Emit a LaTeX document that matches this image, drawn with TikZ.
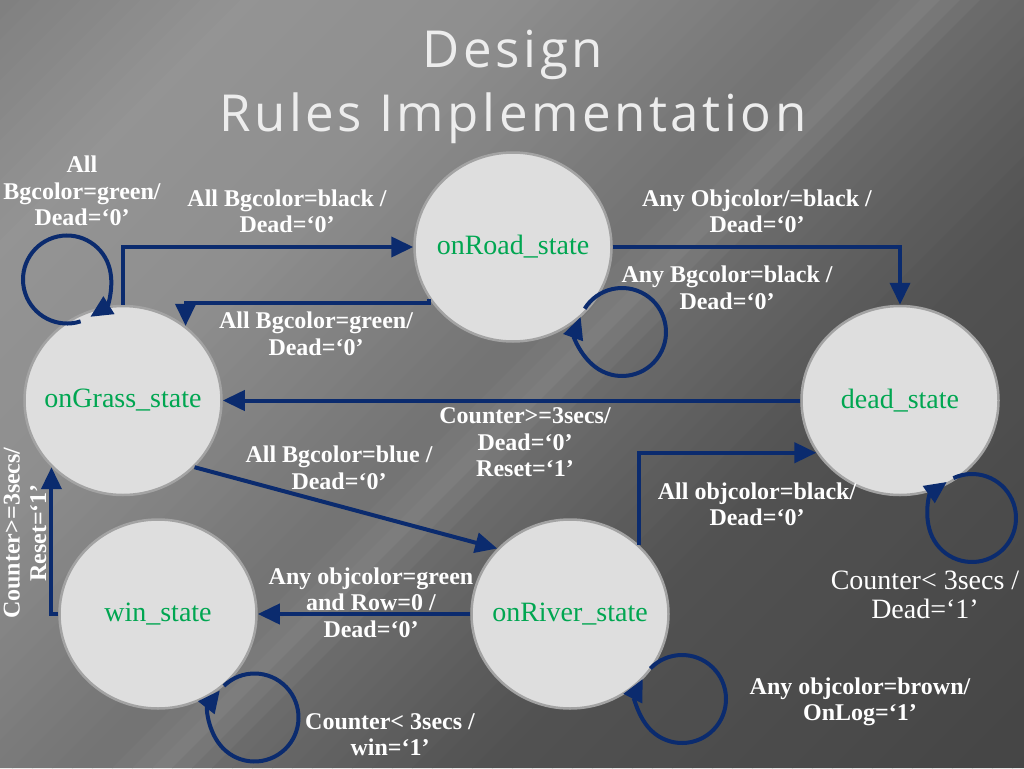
\documentclass[tikz,border=0pt]{standalone}
\usepackage{fontspec}
\setmainfont{Liberation Serif}
\newfontfamily\titlefont[LetterSpace=7]{Open Sans}
\usetikzlibrary{arrows.meta,shapes.geometric,calc}
\definecolor{arrowblue}{HTML}{0B2B6E}
\definecolor{stategreen}{RGB}{0,166,81}
\definecolor{circfill}{HTML}{DEDEDE}
\definecolor{circline}{HTML}{A3A3A3}
\definecolor{titlegray}{HTML}{EDEDED}
\begin{document}
\begin{tikzpicture}[x=1pt,y=-1pt,
  st/.style={ellipse, minimum width=197pt, minimum height=189pt, inner sep=0pt,
    fill=circfill, draw=circline, line width=2.5pt, text=stategreen,
    font=\fontsize{28}{32}\selectfont},
  arr/.style={draw=arrowblue, line width=4pt, -{Triangle[length=22pt,width=20pt]}},
  lbl/.style={text=white, font=\fontsize{24}{26.5}\selectfont\bfseries, align=center, inner sep=0pt},
  lblreg/.style={text=white, font=\fontsize{28}{29}\selectfont, align=center, inner sep=0pt},
  ttl/.style={text=titlegray, font=\titlefont\fontsize{51}{58}\selectfont, inner sep=0pt}
]
\useasboundingbox (0,0) rectangle (1024,768);
% background
\begin{scope}
\clip (0,0) rectangle (1024,768);
\foreach \i in {0,...,90}{
  \pgfmathsetmacro\s{\i*20+10}
  \pgfmathsetmacro\g{(\s<250) ? (50+\s/31.25) : ((\s<500) ? (58-(\s-250)/125) : ((\s<700) ? (56-6*(\s-500)/200) : ((\s<860) ? (50-5*(\s-700)/160) : ((\s<930) ? (45+4*(\s-860)/70) : ((\s<990) ? (49-7*(\s-930)/60) : ((\s<1250) ? (42-10*(\s-990)/260) : (32-5*(\s-1250)/550)))))))}
  \pgfmathsetmacro\sa{\i*20}
  \fill[white!\g!black] (\sa,0) -- (\sa+21,0) -- (\sa+21-768,768) -- (\sa-768,768) -- cycle;
}
\end{scope}
% title
\node[ttl] (t1) at (513,55) {Design};
\node[ttl] (t2) at (513,118) {Rules Implementation};
% states
\node[st] (road) at (513,247) {\makebox[0pt]{onRoad\_state}};
\node[st] (grass) at (123,400.5) {\makebox[0pt]{onGrass\_state}};
\node[st] (dead) at (900,400.5) {\makebox[0pt]{dead\_state}};
\node[st] (win) at (158,614) {\makebox[0pt]{win\_state}};
\node[st] (river) at (570,614) {\makebox[0pt]{onRiver\_state}};
% transitions
\draw[arr] (grass.north) |- (road.west);
\draw[arr] (road.212) -- ++(0,4) -| (grass.50);
\draw[arr] (road.east) -| (dead.north);
\draw[arr] (dead.west) -- (grass.east);
\draw[arr] (grass.-43) -- (river.138);
\draw[arr] (river.45) |- (dead.212);
\draw[arr] (river.west) -- (win.east);
\draw[arr] (win.west) -| (grass.223);
% self loops
\draw[arr] ($(grass.center)+(-56,-121)+(72:44)$) arc[start angle=72, end angle=418, radius=44];
\draw[arr] ($(road.center)+(109,85)+(212:44)$) arc[start angle=212, end angle=560, radius=44];
\draw[arr] ($(dead.center)+(72,117.5)+(245:44)$) arc[start angle=245, end angle=595, radius=44];
\draw[arr] ($(win.center)+(96.5,103.5)+(226:44)$) arc[start angle=226, end angle=578, radius=44];
\draw[arr] ($(river.center)+(112,85)+(224:44)$) arc[start angle=224, end angle=567, radius=44];
% labels
\node[lbl] (lgl) at (82,191) {All\\Bgcolor=green/\\Dead=‘0’};
\node[lbl] (lgr) at (287,211.5) {All Bgcolor=black /\\Dead=‘0’};
\node[lbl] (lrg) at (316,334) {All Bgcolor=green/\\Dead=‘0’};
\node[lbl] (lrd) at (757,211.5) {Any Objcolor/=black /\\Dead=‘0’};
\node[lbl] (lrl) at (727,288) {Any Bgcolor=black /\\Dead=‘0’};
\node[lbl] (ldg) at (525,442.5) {Counter>=3secs/\\Dead=‘0’\\Reset=‘1’};
\node[lbl] (lgv) at (339,468) {All Bgcolor=blue /\\Dead=‘0’};
\node[lbl] (lvd) at (757,504.5) {All objcolor=black/\\Dead=‘0’};
\node[lblreg] (ldl) at (925,594.5) {Counter< 3secs /\\Dead=‘1’};
\node[lbl] (lvw) at (371,602.5) {Any objcolor=green\\and Row=0 /\\Dead=‘0’};
\node[lbl, rotate=90] (lwg) at (25,533) {Counter>=3secs/\\Reset=‘1’};
\node[lbl] (lvl) at (860,702) {Any objcolor=brown/\\OnLog=‘1’};
\node[lbl] (lwl) at (390,734.5) {Counter< 3secs /\\win=‘1’};
\end{tikzpicture}
\end{document}
